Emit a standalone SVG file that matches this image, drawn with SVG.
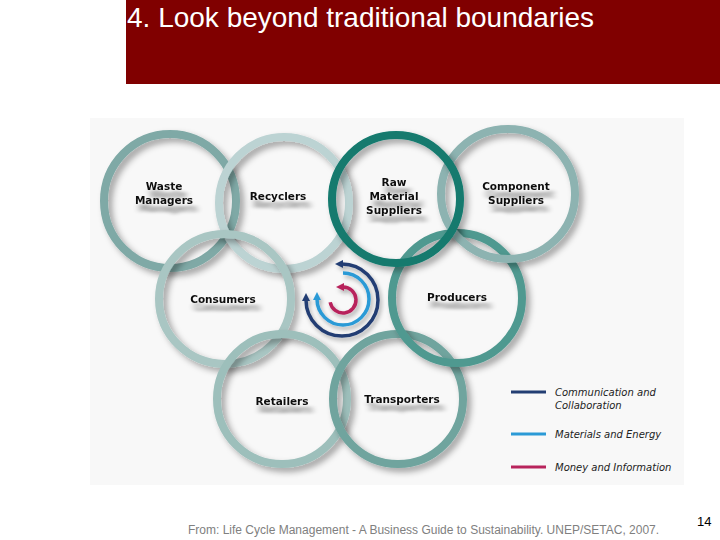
<svg xmlns="http://www.w3.org/2000/svg" width="720" height="540" viewBox="0 0 720 540">
<style>
.ring{fill:none;stroke-width:8;filter:url(#sh)}
.lbl{font-family:"DejaVu Sans",Verdana,sans-serif;font-weight:bold;font-size:10.5px;fill:#111;text-anchor:middle;filter:url(#tsh)}
.leg{font-family:"DejaVu Sans",Verdana,sans-serif;font-style:italic;font-size:10px;fill:#222}
.arc{fill:none;stroke-width:3.5;filter:url(#ash)}
</style>
<defs>
<filter id="sh" x="-20%" y="-20%" width="150%" height="150%">
<feDropShadow dx="4" dy="4" stdDeviation="3" flood-color="#000" flood-opacity="0.35"/>
</filter>
<filter id="ash" x="-20%" y="-20%" width="150%" height="150%">
<feDropShadow dx="2" dy="3" stdDeviation="2" flood-color="#000" flood-opacity="0.3"/>
</filter>
<filter id="tsh" x="-20%" y="-50%" width="150%" height="250%">
<feDropShadow dx="4" dy="8" stdDeviation="3 1.5" flood-color="#000" flood-opacity="0.45"/>
</filter>
<marker id="mN" markerUnits="userSpaceOnUse" viewBox="0 0 8 8" markerWidth="8" markerHeight="9" refX="1" refY="4" orient="auto-start-reverse"><path d="M0,0 L8,4 L0,8 z" fill="#233e73"/></marker>
<marker id="mB" markerUnits="userSpaceOnUse" viewBox="0 0 8 8" markerWidth="8" markerHeight="9" refX="1" refY="4" orient="auto-start-reverse"><path d="M0,0 L8,4 L0,8 z" fill="#2b9ad6"/></marker>
<marker id="mM" markerUnits="userSpaceOnUse" viewBox="0 0 8 8" markerWidth="8" markerHeight="9" refX="1" refY="4" orient="auto-start-reverse"><path d="M0,0 L8,4 L0,8 z" fill="#b8245c"/></marker>
</defs>
<rect x="0" y="0" width="720" height="540" fill="#fff"/>
<g id="title">
<rect x="126" y="0" width="594" height="84" fill="#800000"/>
<text x="127" y="27" font-family="'Liberation Sans',Arial,sans-serif" font-size="28" fill="#fff">4. Look beyond traditional boundaries</text>
</g>
<rect x="90" y="118" width="594" height="367" fill="#f8f8f8"/>
<g id="waste-managers"><ellipse class="ring" cx="170" cy="201" rx="66" ry="67" stroke="#7fa9a6"/></g>
<g id="recyclers"><ellipse class="ring" cx="284" cy="203" rx="65" ry="66" stroke="#bcd3d3"/></g>
<g id="consumers"><ellipse class="ring" cx="225" cy="299" rx="66" ry="65" stroke="#a9c6c3"/></g>
<g id="retailers"><ellipse class="ring" cx="282" cy="399" rx="65" ry="65" stroke="#9dbfbb"/></g>
<g id="transporters"><ellipse class="ring" cx="398" cy="399" rx="65" ry="65" stroke="#6fa49e"/></g>
<g id="producers"><ellipse class="ring" cx="457" cy="298" rx="65" ry="65" stroke="#4f9990"/></g>
<g id="component-suppliers"><ellipse class="ring" cx="508" cy="194" rx="67" ry="65" stroke="#8db3b1"/></g>
<g id="raw-material-suppliers"><ellipse class="ring" cx="396" cy="199" rx="64" ry="64" stroke="#137a6e" stroke-width="10"/></g>
<g id="labels">
<text class="lbl" x="164" y="190">Waste<tspan x="164" y="204">Managers</tspan></text>
<text class="lbl" x="278" y="200">Recyclers</text>
<text class="lbl" x="394" y="186">Raw<tspan x="394" y="200">Material</tspan><tspan x="394" y="214">Suppliers</tspan></text>
<text class="lbl" x="516" y="190">Component<tspan x="516" y="204">Suppliers</tspan></text>
<text class="lbl" x="223" y="303">Consumers</text>
<text class="lbl" x="457" y="301">Producers</text>
<text class="lbl" x="282" y="405">Retailers</text>
<text class="lbl" x="402" y="403">Transporters</text>
</g>
<g id="connectors">
<path class="arc" d="M342,264 A36,36 0 1 1 306,300" stroke="#233e73" marker-start="url(#mN)" marker-end="url(#mN)"/>
<path class="arc" d="M343,273 A26,26 0 1 1 317,299" stroke="#2b9ad6" marker-end="url(#mB)"/>
<path class="arc" d="M343,287 A13,13 0 1 1 330.2,302.3" stroke="#b8245c" marker-start="url(#mM)"/>
</g>
<g id="legend">
<line x1="511" y1="392" x2="546" y2="392" stroke="#233e73" stroke-width="3"/>
<line x1="511" y1="434" x2="546" y2="434" stroke="#2b9ad6" stroke-width="3"/>
<line x1="511" y1="467" x2="546" y2="467" stroke="#b8245c" stroke-width="3"/>
<text class="leg" x="555" y="396">Communication and<tspan x="555" y="409">Collaboration</tspan></text>
<text class="leg" x="555" y="438">Materials and Energy</text>
<text class="leg" x="555" y="471">Money and Information</text>
</g>
<g id="footer">
<text x="188" y="534" font-family="'Liberation Sans',Arial,sans-serif" font-size="12" fill="#808080">From: Life Cycle Management - A Business Guide to Sustainability. UNEP/SETAC, 2007.</text>
<text x="697" y="526" font-family="'Liberation Sans',Arial,sans-serif" font-size="13" fill="#000">14</text>
</g>
</svg>
